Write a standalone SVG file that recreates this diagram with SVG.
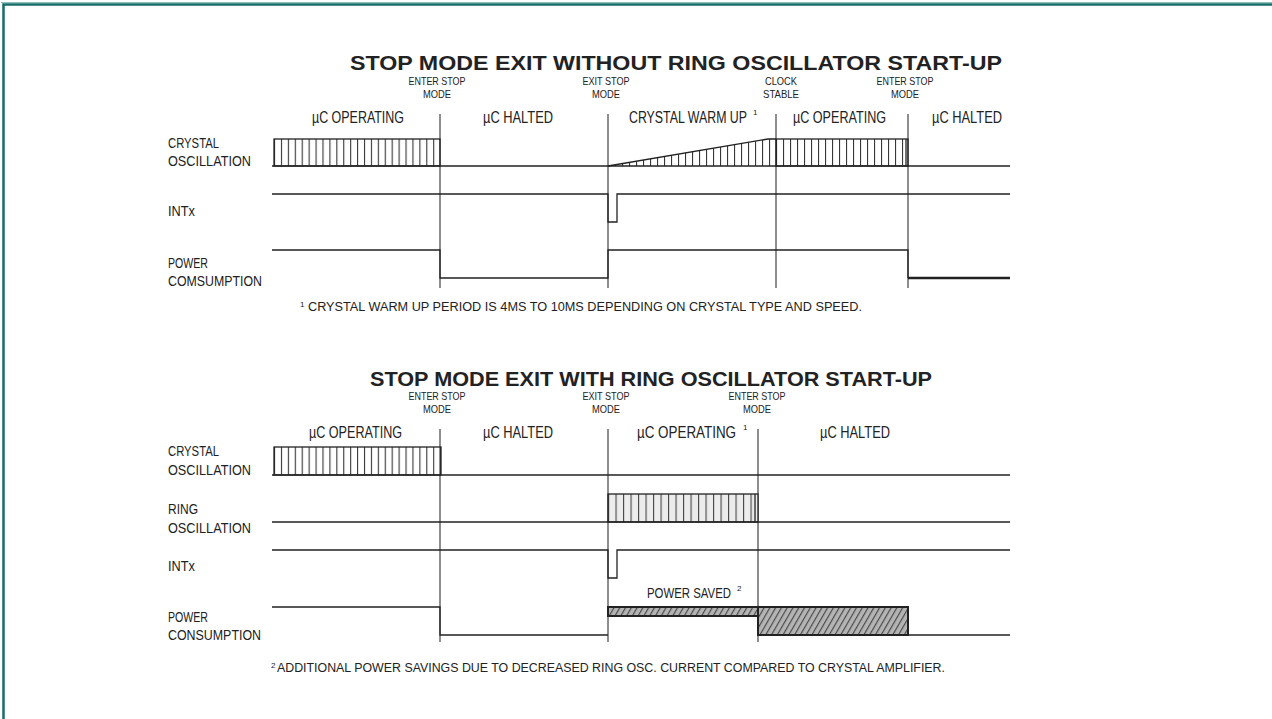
<svg xmlns="http://www.w3.org/2000/svg" width="1272" height="719" viewBox="0 0 1272 719">
<style>
.t{font-family:"Liberation Sans",Arial,sans-serif;fill:#222}
.ttl{font-size:21px;font-weight:bold}
.sm{font-size:11.5px}
.rg{font-size:16px}
.lb{font-size:14px}
.fn{font-size:12px}
.sup{font-size:8px}
.w{fill:none;stroke:#222;stroke-width:1.3}
.d{fill:none;stroke:#444;stroke-width:1.2}
</style>
<defs>
<pattern id="vh" patternUnits="userSpaceOnUse" x="274" y="0" width="6.92" height="20">
<path d="M0.6,0V20" stroke="#222" stroke-width="1"/>
</pattern>
<pattern id="vh2" patternUnits="userSpaceOnUse" x="608" y="0" width="7" height="20">
<path d="M0.6,0V20" stroke="#222" stroke-width="1"/>
</pattern>
<pattern id="rh" patternUnits="userSpaceOnUse" x="608" y="0" width="7.5" height="20">
<rect width="7.5" height="20" fill="#ececec"/>
<path d="M0.6,0V20" stroke="#333" stroke-width="1"/>
</pattern>
<pattern id="ds" patternUnits="userSpaceOnUse" width="5" height="10" patternTransform="rotate(30)">
<rect width="5" height="10" fill="#b4b4b4"/>
<path d="M0.6,0V10" stroke="#444" stroke-width="1.1"/>
</pattern>
</defs>
<rect width="1272" height="719" fill="#fff"/>
<g id="frame">
<path d="M1,2.5H1272" stroke="#8cc0bc" stroke-width="1.2" fill="none"/>
<path d="M3.5,719V4.5H1272" stroke="#176e6a" stroke-width="2.5" fill="none"/>
</g>

<g id="top-diagram">
<text class="t ttl" x="350" y="70" textLength="652" lengthAdjust="spacingAndGlyphs">STOP MODE EXIT WITHOUT RING OSCILLATOR START-UP</text>
<g id="top-events" text-anchor="middle">
<text class="t sm" x="437" y="85" textLength="57" lengthAdjust="spacingAndGlyphs">ENTER STOP</text>
<text class="t sm" x="437" y="98" textLength="28" lengthAdjust="spacingAndGlyphs">MODE</text>
<text class="t sm" x="606" y="85" textLength="47" lengthAdjust="spacingAndGlyphs">EXIT STOP</text>
<text class="t sm" x="606" y="98" textLength="28" lengthAdjust="spacingAndGlyphs">MODE</text>
<text class="t sm" x="781" y="85" textLength="32" lengthAdjust="spacingAndGlyphs">CLOCK</text>
<text class="t sm" x="781" y="98" textLength="36" lengthAdjust="spacingAndGlyphs">STABLE</text>
<text class="t sm" x="905" y="85" textLength="57" lengthAdjust="spacingAndGlyphs">ENTER STOP</text>
<text class="t sm" x="905" y="98" textLength="28" lengthAdjust="spacingAndGlyphs">MODE</text>
</g>
<g id="top-phases">
<text class="t rg" x="629" y="123" textLength="118" lengthAdjust="spacingAndGlyphs">CRYSTAL WARM UP</text>
<text class="t sup" x="753" y="115">1</text>
<text class="t rg" x="312" y="123" textLength="92" lengthAdjust="spacingAndGlyphs">µC OPERATING</text>
<text class="t rg" x="483" y="123" textLength="70" lengthAdjust="spacingAndGlyphs">µC HALTED</text>
<text class="t rg" x="793" y="123" textLength="93" lengthAdjust="spacingAndGlyphs">µC OPERATING</text>
<text class="t rg" x="932" y="123" textLength="70" lengthAdjust="spacingAndGlyphs">µC HALTED</text>
</g>
<g id="top-signals">
<text class="t lb" x="168" y="148" textLength="51" lengthAdjust="spacingAndGlyphs">CRYSTAL</text>
<text class="t lb" x="168" y="166" textLength="83" lengthAdjust="spacingAndGlyphs">OSCILLATION</text>
<text class="t lb" x="168" y="216" textLength="27" lengthAdjust="spacingAndGlyphs">INTx</text>
<text class="t lb" x="168" y="268" textLength="40" lengthAdjust="spacingAndGlyphs">POWER</text>
<text class="t lb" x="168" y="286" textLength="94" lengthAdjust="spacingAndGlyphs">COMSUMPTION</text>
</g>
<g id="top-dividers">
<path class="d" d="M440,114V288M608,114V288M776,114V288M908,114V288"/>
</g>
<g id="top-waves">
<rect x="274" y="139" width="166" height="27" fill="url(#vh)" stroke="#222" stroke-width="1.3"/>
<polygon points="608,166 768,139 776,139 776,166" fill="url(#vh2)"/>
<path class="w" d="M608,166L768,139H776"/>
<rect x="776" y="139" width="132" height="27" fill="url(#vh2)" stroke="#222" stroke-width="1.3"/>
<path class="w" d="M906,139V166"/>
<path class="w" d="M272,166H1010"/>
<path class="w" d="M272,194H608V222H617V194H1010"/>
<path class="w" d="M272,250H440V278H608V250H908V278"/>
<path fill="none" stroke="#222" stroke-width="2.6" d="M908,278H1010"/>
</g>
<g id="footnote-1">
<text class="t sup" x="300" y="307">1</text>
<text class="t fn" x="308" y="311" textLength="554" lengthAdjust="spacingAndGlyphs">CRYSTAL WARM UP PERIOD IS 4MS TO 10MS DEPENDING ON CRYSTAL TYPE AND SPEED.</text>
</g>
</g>

<g id="bottom-diagram">
<text class="t ttl" x="370" y="386" textLength="562" lengthAdjust="spacingAndGlyphs">STOP MODE EXIT WITH RING OSCILLATOR START-UP</text>
<g id="bottom-events" text-anchor="middle">
<text class="t sm" x="437" y="400" textLength="57" lengthAdjust="spacingAndGlyphs">ENTER STOP</text>
<text class="t sm" x="437" y="413" textLength="28" lengthAdjust="spacingAndGlyphs">MODE</text>
<text class="t sm" x="606" y="400" textLength="47" lengthAdjust="spacingAndGlyphs">EXIT STOP</text>
<text class="t sm" x="606" y="413" textLength="28" lengthAdjust="spacingAndGlyphs">MODE</text>
<text class="t sm" x="757" y="400" textLength="57" lengthAdjust="spacingAndGlyphs">ENTER STOP</text>
<text class="t sm" x="757" y="413" textLength="28" lengthAdjust="spacingAndGlyphs">MODE</text>
</g>
<g id="bottom-phases">
<text class="t rg" x="309" y="438" textLength="93" lengthAdjust="spacingAndGlyphs">µC OPERATING</text>
<text class="t rg" x="483" y="438" textLength="70" lengthAdjust="spacingAndGlyphs">µC HALTED</text>
<text class="t rg" x="637" y="438" textLength="99" lengthAdjust="spacingAndGlyphs">µC OPERATING</text>
<text class="t sup" x="743" y="430">1</text>
<text class="t rg" x="820" y="438" textLength="70" lengthAdjust="spacingAndGlyphs">µC HALTED</text>
</g>
<g id="bottom-signals">
<text class="t lb" x="168" y="456" textLength="51" lengthAdjust="spacingAndGlyphs">CRYSTAL</text>
<text class="t lb" x="168" y="475" textLength="83" lengthAdjust="spacingAndGlyphs">OSCILLATION</text>
<text class="t lb" x="168" y="514" textLength="30" lengthAdjust="spacingAndGlyphs">RING</text>
<text class="t lb" x="168" y="533" textLength="83" lengthAdjust="spacingAndGlyphs">OSCILLATION</text>
<text class="t lb" x="168" y="571" textLength="27" lengthAdjust="spacingAndGlyphs">INTx</text>
<text class="t lb" x="168" y="622" textLength="40" lengthAdjust="spacingAndGlyphs">POWER</text>
<text class="t lb" x="168" y="640" textLength="93" lengthAdjust="spacingAndGlyphs">CONSUMPTION</text>
</g>
<g id="bottom-dividers">
<path class="d" d="M440,429V642M608,429V642M758,429V642"/>
</g>
<g id="bottom-waves">
<rect x="274" y="447" width="167" height="28" fill="url(#vh)" stroke="#222" stroke-width="1.3"/>
<rect x="608" y="494" width="150" height="28" fill="url(#rh)" stroke="#222" stroke-width="1.3"/>
<path class="w" d="M755,494V522"/>
<path class="w" d="M272,475H1010"/>
<path class="w" d="M272,522H1010"/>
<path class="w" d="M272,550H608V578H617V550H1010"/>
<path class="w" d="M272,607H440V635H608"/>
<rect x="608" y="607" width="150" height="9" fill="url(#ds)" stroke="#222" stroke-width="2"/>
<rect x="758" y="607" width="150" height="28" fill="url(#ds)" stroke="#222" stroke-width="2"/>
<path class="w" d="M908,635H1010"/>
<text class="t lb" x="647" y="598" textLength="84" lengthAdjust="spacingAndGlyphs">POWER SAVED</text>
<text class="t sup" x="737" y="591">2</text>
</g>
<g id="footnote-2">
<text class="t sup" x="271" y="668">2</text>
<text class="t fn" x="277" y="672" textLength="668" lengthAdjust="spacingAndGlyphs">ADDITIONAL POWER SAVINGS DUE TO DECREASED RING OSC. CURRENT COMPARED TO CRYSTAL AMPLIFIER.</text>
</g>
</g>
</svg>
